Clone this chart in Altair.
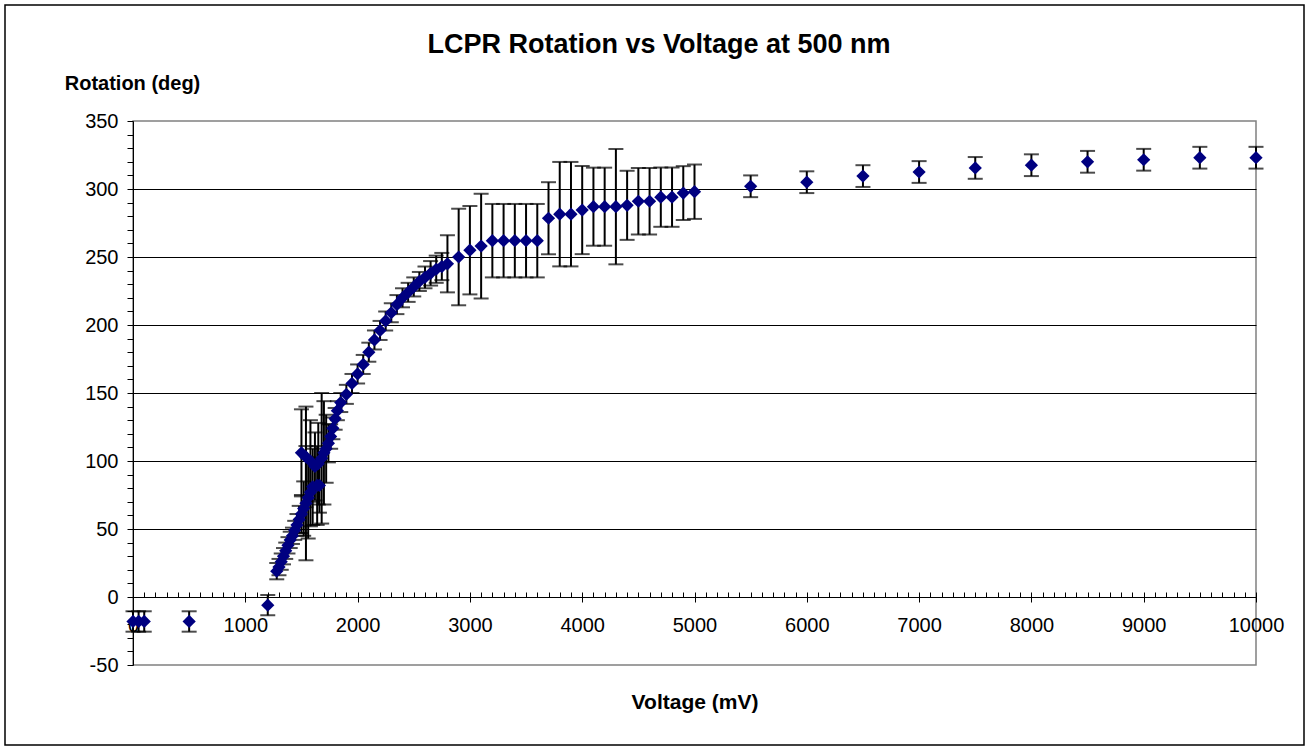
import altair as alt
import pandas as pd

# ---- data ----
voltage_mv = [
    0, 50, 100, 500, 1200,
    1280, 1300, 1320, 1340, 1360, 1380, 1400, 1420, 1440, 1460, 1480, 1500, 1520, 1540, 1560, 1580, 1600,
    1640, 1660,
    1500, 1540, 1580, 1620, 1650, 1680, 1700, 1720, 1740, 1760, 1780, 1800, 1820, 1850, 1900, 1950, 2000, 2050,
    2100, 2150, 2200, 2250, 2300, 2350, 2400, 2450, 2500, 2550, 2600, 2650, 2700, 2750, 2800,
    2900, 3000, 3100, 3200, 3300, 3400, 3500, 3600, 3700, 3800, 3900, 4000, 4100, 4200, 4300, 4400,
    4500, 4600, 4700, 4800, 4900, 5000,
    5500, 6000, 6500, 7000, 7500, 8000, 8500, 9000, 9500, 10000,
]
rotation_deg = [
    -18, -18, -18, -18, -6,
    19, 22, 26, 30, 34, 38, 42, 45, 49, 53, 57, 61, 65, 69, 73, 77, 81,
    82, 82,
    106, 103, 100, 96, 98, 102, 106, 109, 113, 118, 124, 131, 137, 143, 149, 157, 164, 171,
    180, 189, 196, 203, 209, 215, 220, 224, 228, 232, 235, 238, 241, 243, 245,
    250, 255, 258, 262, 262, 262, 262, 262, 278.5, 281.5, 281.5, 284.5, 287, 287, 287, 288,
    291, 291, 294, 294, 297, 298,
    302, 305, 309.5, 312.5, 315.5, 317.5, 320, 321.5, 323, 323,
]
error_deg = [
    7.5, 7.5, 7.5, 7.5, 7.5,
    6, 6, 6, 6, 6, 6, 6, 6, 7, 8, 10, 14, 20, 42, 30, 25, 28,
    29, 20,
    32, 37, 30, 25, 30, 48, 38, 25, 14, 9, 8, 8, 7, 7, 7, 7, 7, 7,
    7, 7, 7, 7, 7, 7, 7, 7, 7, 7, 8, 9, 10, 10, 21,
    35.5, 32.5, 38.5, 27, 27, 27, 27, 27, 26.5, 38.4, 38.4, 32.4, 28.7, 28.7, 42.4, 25.4,
    24.5, 24.5, 21.8, 21.8, 19.8, 20,
    8, 8, 8, 8, 8, 8, 8, 8, 8, 8,
]
x_major_ticks = list(range(0, 10001, 1000))
x_minor_ticks = list(range(0, 10001, 100))
y_minor_ticks = list(range(-50, 351, 10))
y_grid_ticks = list(range(0, 301, 50))

df = pd.DataFrame({"V": voltage_mv, "R": rotation_deg, "E": error_deg})

W, H = 1123, 544
FONT = "Liberation Sans"
xscale = alt.Scale(domain=[0, 10000], nice=False, zero=False)
yscale = alt.Scale(domain=[-50, 350], nice=False, zero=False)

base = alt.Chart(df).transform_calculate(lo="datum.R - datum.E", hi="datum.R + datum.E")

rules = base.mark_rule(color="black", strokeWidth=2).encode(
    x=alt.X("V:Q", scale=xscale, axis=alt.Axis(
        orient="bottom", offset=-68, values=x_major_ticks, tickSize=5, tickColor="black",
        tickWidth=1, domainColor="black", domainWidth=1, grid=False,
        labelExpr="'' + datum.value",
        labelFont=FONT, labelFontSize=20, labelColor="black", labelPadding=13,
        labelFlush=False, labelOverlap=False,
        title="Voltage (mV)", titleFont=FONT, titleFontSize=21, titleFontWeight="bold",
        titleColor="black", titleY=105, titleBaseline="middle")),
    y=alt.Y("lo:Q", scale=yscale, axis=alt.Axis(
        orient="left", values=y_minor_ticks, tickSize=6, tickColor="black", tickWidth=1,
        domainColor="black", domainWidth=1, grid=False,
        labelExpr="datum.value % 50 == 0 ? '' + datum.value : ''",
        labelFont=FONT, labelFontSize=20, labelColor="black", labelPadding=9,
        labelOverlap=False, labelFlush=False,
        title="Rotation (deg)", titleFont=FONT, titleFontSize=20, titleFontWeight="bold",
        titleColor="black", titleAngle=0, titleX=-1, titleY=-38,
        titleAlign="center", titleBaseline="middle")),
    y2="hi:Q",
)

caps_lo = base.mark_tick(orient="horizontal", size=15, thickness=2, color="black").encode(
    x=alt.X("V:Q", axis=None),
    y=alt.Y("lo:Q", axis=alt.Axis(
        orient="right", offset=-W, values=y_grid_ticks, tickSize=6, tickColor="black",
        labels=False, domain=False, grid=True, gridColor="black", gridWidth=1, title=None)),
)

caps_hi = base.mark_tick(orient="horizontal", size=15, thickness=2, color="black").encode(
    x=alt.X("V:Q", axis=None),
    y=alt.Y("hi:Q", axis=None),
)

points = alt.Chart(df).mark_point(shape="diamond", filled=True, size=175, color="#000080", opacity=1).encode(
    x=alt.X("V:Q", axis=alt.Axis(
        orient="top", offset=-(H - 68), values=x_minor_ticks, tickSize=5, tickColor="black",
        labels=False, domain=False, grid=False, title=None)),
    y=alt.Y("R:Q", axis=None),
)

border = alt.Chart(alt.Data(values=[{}])).mark_rect(fill="transparent", stroke="black", strokeWidth=1.5).encode(
    x=alt.value(-128), x2=alt.value(1171), y=alt.value(-116), y2=alt.value(624)
)

title = alt.Chart(alt.Data(values=[{}])).mark_text(
    text="LCPR Rotation vs Voltage at 500 nm", font=FONT, fontSize=27, fontWeight="bold",
    color="black", align="center", baseline="middle"
).encode(x=alt.value(526), y=alt.value(-76))

chart = alt.layer(border, rules, caps_lo, caps_hi, points, title).resolve_axis(
    x="independent", y="independent"
).properties(
    width=W, height=H, autosize="none",
    padding={"left": 133, "top": 121, "right": 52, "bottom": 82},
    background="white",
).configure_view(stroke="#808080", strokeWidth=1.5)

chart.save("out.html", embed_options={"renderer": "svg", "actions": False})
